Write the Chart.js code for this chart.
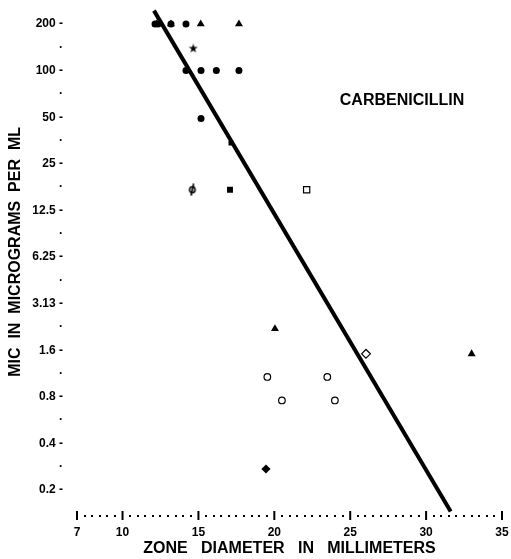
<!DOCTYPE html>
<html>
<head>
<meta charset="utf-8">
<script src="https://cdn.jsdelivr.net/npm/chart.js@4.4.0/dist/chart.umd.min.js"></script>
<style>
  html, body { margin: 0; padding: 0; background: #fff; }
</style>
</head>
<body>
<canvas id="mic" width="511" height="559"></canvas>
<script>
// axis ticks
const xTicks = [7, 10, 15, 20, 25, 30, 35];
const xDotStep = 0.5;
const yTicks = [200, 141, 100, 70.7, 50, 35.4, 25, 17.7, 12.5, 8.84, 6.25, 4.42, 3.125, 2.21, 1.5625, 1.105, 0.78125, 0.552, 0.390625, 0.276, 0.1953125];
const yLabels = ['200 -', '·', '100 -', '·', '50 -', '·', '25 -', '·', '12.5 -', '·', '6.25 -', '·', '3.13 -', '·', '1.6 -', '·', '0.8 -', '·', '0.4 -', '·', '0.2 -'];

// observations (zone diameter mm, MIC ug/ml)
const filledCircles = [
  { x: 12.14, y: 200 }, { x: 12.34, y: 200 }, { x: 13.19, y: 200 }, { x: 14.18, y: 200 },
  { x: 14.18, y: 100 }, { x: 15.17, y: 100 }, { x: 16.18, y: 100 }, { x: 17.67, y: 100 },
  { x: 15.17, y: 49 },
];
const filledTriangles = [
  { x: 12.24, y: 200 }, { x: 13.19, y: 200 }, { x: 15.15, y: 200 }, { x: 17.67, y: 200 },
  { x: 20.04, y: 2.15 }, { x: 33.0, y: 1.48 },
];
const stars = [{ x: 14.66, y: 139 }];
const smallSquares = [{ x: 17.14, y: 34 }];
const filledSquares = [{ x: 17.08, y: 17 }];
const phis = [{ x: 14.6, y: 17 }];
const openSquares = [{ x: 22.13, y: 17 }];
const openDiamonds = [{ x: 26.04, y: 1.48 }];
const openCircles = [{ x: 19.54, y: 1.05 }, { x: 23.49, y: 1.05 }, { x: 20.5, y: 0.74 }, { x: 23.99, y: 0.74 }];
const filledDiamonds = [{ x: 19.45, y: 0.267 }];
const fitLine = [{ x: 12.07, y: 244 }, { x: 31.62, y: 0.142 }];

const FONT = '"Liberation Sans", Arial, sans-serif';
Chart.defaults.font.family = FONT;
Chart.defaults.font.weight = 'bold';
Chart.defaults.color = '#000';

function makeStar() {
  const c = document.createElement('canvas');
  c.width = 10; c.height = 10;
  const g = c.getContext('2d');
  g.beginPath();
  for (let i = 0; i < 10; i++) {
    const r = i % 2 ? 1.9 : 4.8;
    const a = -Math.PI / 2 + i * Math.PI / 5;
    g.lineTo(5 + r * Math.cos(a), 5 + r * Math.sin(a));
  }
  g.closePath();
  g.fill();
  return c;
}

function makePhi() {
  const c = document.createElement('canvas');
  c.width = 10; c.height = 13;
  const g = c.getContext('2d');
  g.lineWidth = 1.6;
  g.beginPath();
  g.ellipse(5, 6.5, 2.7, 3, 0, 0, Math.PI * 2);
  g.stroke();
  g.beginPath();
  g.moveTo(6.3, 0.5);
  g.lineTo(3.7, 12.5);
  g.stroke();
  return c;
}

const pts = (data, style, radius, fill, extra = {}) => ({
  data, pointStyle: style, pointRadius: radius,
  pointBackgroundColor: fill, pointBorderColor: '#000', pointBorderWidth: 1.2,
  ...extra,
});

// dotted x axis with crossing tick bars, and the drug name
const decorations = {
  id: 'decorations',
  afterDraw(chart) {
    const { ctx, chartArea, scales: { x } } = chart;
    const y0 = chartArea.bottom;
    ctx.save();
    ctx.fillStyle = '#000';
    for (let v = x.min; v <= x.max; v += xDotStep) {
      if (xTicks.includes(v)) continue;
      ctx.fillRect(Math.round(x.getPixelForValue(v)) - 1, y0 - 1, 2, 2);
    }
    ctx.strokeStyle = '#000';
    ctx.lineWidth = 2;
    x.ticks.forEach((t) => {
      const px = x.getPixelForValue(t.value);
      ctx.beginPath();
      ctx.moveTo(px, y0 - 5);
      ctx.lineTo(px, y0 + 4);
      ctx.stroke();
    });
    ctx.font = 'bold 16px ' + FONT;
    ctx.textAlign = 'center';
    ctx.textBaseline = 'middle';
    ctx.fillText('CARBENICILLIN', 402, 101);
    ctx.restore();
  },
};

new Chart(document.getElementById('mic'), {
  type: 'scatter',
  data: {
    datasets: [
      { data: fitLine, showLine: true, borderColor: '#000', borderWidth: 4, pointRadius: 0, clip: false },
      pts(filledCircles, 'circle', 3.5, '#000', { pointBorderWidth: 0 }),
      pts(filledTriangles, 'triangle', 4.6, '#000', { pointBorderWidth: 0 }),
      pts(stars, makeStar(), 4, '#000'),
      pts(smallSquares, 'rect', 3.4, '#000', { pointBorderWidth: 0 }),
      pts(filledSquares, 'rect', 4.2, '#000', { pointBorderWidth: 0 }),
      pts(phis, makePhi(), 4, '#000'),
      pts(openSquares, 'rect', 4.4, '#fff'),
      pts(openDiamonds, 'rectRot', 4.4, '#fff'),
      pts(openCircles, 'circle', 3.3, '#fff'),
      pts(filledDiamonds, 'rectRot', 4.6, '#000', { pointBorderWidth: 0 }),
    ],
  },
  options: {
    responsive: false,
    animation: false,
    layout: { padding: { top: 5, right: 9, bottom: 0, left: 0 } },
    plugins: { legend: { display: false }, tooltip: { enabled: false } },
    scales: {
      x: {
        type: 'linear', min: 7, max: 35, bounds: 'data',
        afterBuildTicks: (scale) => { scale.ticks = xTicks.map((v) => ({ value: v })); },
        afterFit: (scale) => { scale.height = 43; scale.paddingLeft = 0; scale.paddingRight = 0; },
        grid: { display: false, drawTicks: false },
        border: { display: false },
        ticks: { autoSkip: false, maxRotation: 0, padding: 9, font: { size: 12, weight: 'bold' }, color: '#000' },
        title: { display: true, text: 'ZONE   DIAMETER   IN   MILLIMETERS', font: { size: 16, weight: 'bold' }, color: '#000', padding: { top: 0, bottom: 1 } },
      },
      y: {
        type: 'logarithmic', min: 0.1327, max: 262.9, bounds: 'data',
        afterBuildTicks: (scale) => { scale.ticks = yTicks.map((v) => ({ value: v })); },
        afterFit: (scale) => { scale.width = 77; scale.paddingTop = 0; scale.paddingBottom = 0; },
        grid: { display: false, drawTicks: false },
        border: { display: false },
        ticks: { autoSkip: false, padding: 14, font: { size: 12, weight: 'bold' }, color: '#000', callback: (v, i) => yLabels[i] },
        title: { display: true, text: '    MIC  IN  MICROGRAMS  PER  ML', font: { size: 16, weight: 'bold' }, color: '#000', padding: { top: 6, bottom: 0 } },
      },
    },
  },
  plugins: [decorations],
});
</script>
</body>
</html>
